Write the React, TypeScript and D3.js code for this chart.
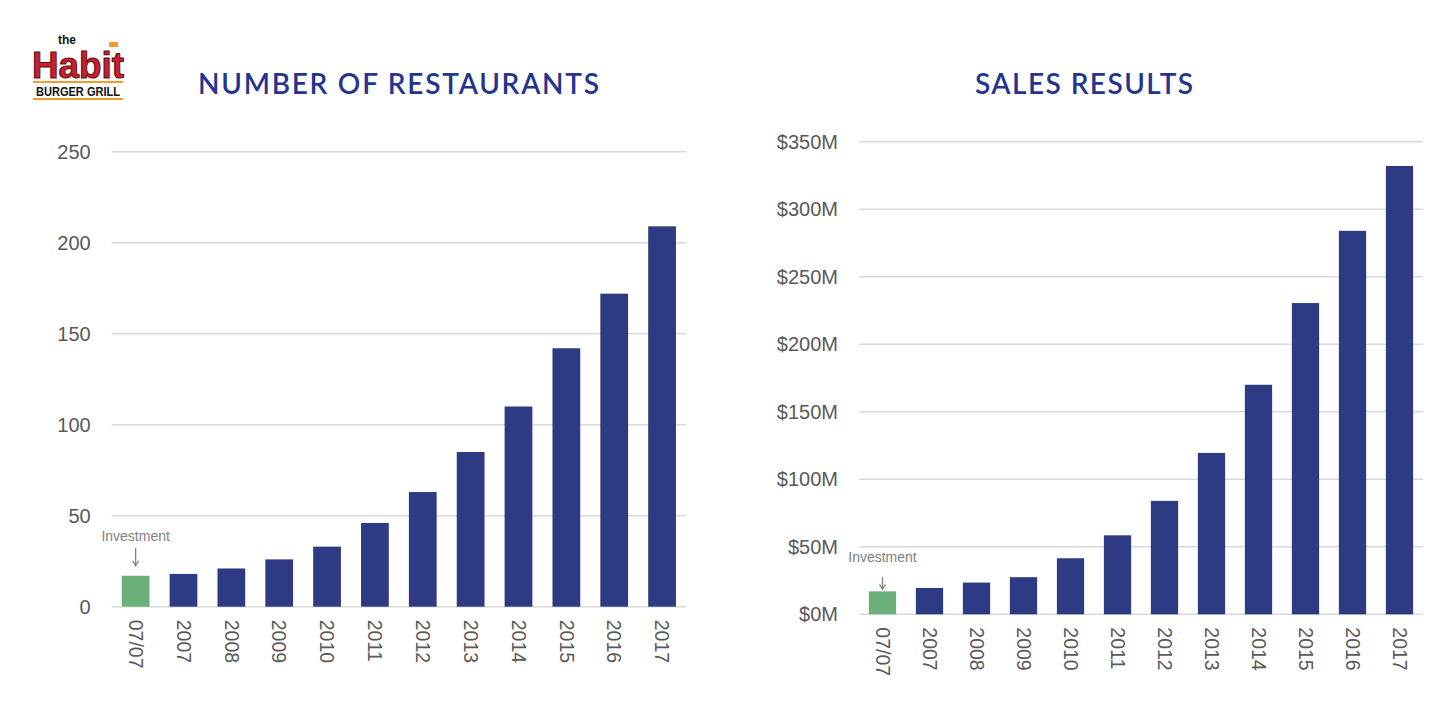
import React from 'react';
import * as d3 from 'd3';

// categories shared by both panels
const periods = ['07/07', '2007', '2008', '2009', '2010', '2011', '2012', '2013', '2014', '2015', '2016', '2017'];

// number of restaurants
const restaurants = [17, 18, 21, 26, 33, 46, 63, 85, 110, 142, 172, 209];
const restaurantTicks = [0, 50, 100, 150, 200, 250];

// sales in $M
const sales = [17, 19.5, 23.5, 27.5, 41.5, 58.5, 84, 119.5, 170, 230.5, 284, 332];
const salesTicks = [0, 50, 100, 150, 200, 250, 300, 350];

const BAR = '#2d3b84';
const GREEN = '#6baf7b';
const GRID = '#d9d9d9';
const TEXT = '#595959';
const TITLE = '#24358f';
const FONT = '"Liberation Sans", Arial, sans-serif';

interface PanelProps {
  title: string;
  titleX: number;
  titleWidth: number;
  values: number[];
  ticks: number[];
  fmt: (v: number) => string;
  x0: number;
  x1: number;
  yBottom: number;
  yTop: number;
  note: { text: number; a0: number; a1: number };
}

const Panel: React.FC<PanelProps> = ({ title, titleX, titleWidth, values, ticks, fmt, x0, x1, yBottom, yTop, note }) => {
  const xScale = d3.scaleBand<string>()
    .domain(periods)
    .range([x0, x1])
    .paddingInner(0.42)
    .paddingOuter(0.21);

  const yScale = d3.scaleLinear()
    .domain([0, ticks[ticks.length - 1]])
    .range([yBottom, yTop]);

  const bw = xScale.bandwidth();
  const firstX = xScale(periods[0])! + bw / 2;
  const firstTop = yScale(values[0]);

  return (
    <g>
      <text x={titleX} y={94} textAnchor="middle" fill={TITLE}
        style={{ fontFamily: '"Lato", "Open Sans", sans-serif', fontSize: 28, fontWeight: 600 }}
        textLength={titleWidth} lengthAdjust="spacing">
        {title}
      </text>

      {/* gridlines + y labels */}
      {ticks.map(t => (
        <g key={t}>
          <line x1={x0} x2={x1} y1={yScale(t)} y2={yScale(t)} stroke={GRID} strokeWidth={1.5} />
          <text x={x0 - 21} y={yScale(t)} dy="0.35em" textAnchor="end" fill={TEXT}
            style={{ fontFamily: FONT, fontSize: 20 }}>
            {fmt(t)}
          </text>
        </g>
      ))}

      {/* bars */}
      {values.map((v, i) => (
        <rect key={periods[i]} x={xScale(periods[i])} y={yScale(v)} width={bw}
          height={yScale(0) - yScale(v)} fill={i === 0 ? GREEN : BAR} />
      ))}

      {/* rotated x labels */}
      {periods.map(p => {
        const cx = xScale(p)! + bw / 2;
        const cy = yScale(0) + 13;
        return (
          <text key={p} transform={`translate(${cx},${cy}) rotate(90)`} dy="0.35em" textAnchor="start"
            fill={TEXT} style={{ fontFamily: FONT, fontSize: 19.5 }}>
            {p}
          </text>
        );
      })}

      {/* investment annotation */}
      <text x={firstX} y={firstTop - note.text} textAnchor="middle" fill="#808080"
        style={{ fontFamily: FONT, fontSize: 14 }}>
        Investment
      </text>
      <line x1={firstX} x2={firstX} y1={firstTop - note.a0} y2={firstTop - note.a1} stroke="#808080" strokeWidth={1.3} />
      <path d={`M${firstX - 3},${firstTop - note.a1 - 4} L${firstX},${firstTop - note.a1 + 1} L${firstX + 3},${firstTop - note.a1 - 4}`}
        fill="none" stroke="#808080" strokeWidth={1.3} />
    </g>
  );
};

const Logo: React.FC = () => (
  <g style={{ fontFamily: FONT, fontWeight: 700 }}>
    <text x={67} y={44} textAnchor="middle" fill="#111" style={{ fontSize: 12, fontWeight: 700 }}>the</text>
    <text x={78} y={78} textAnchor="middle" fill="#c8202f" stroke="#5a0d12" strokeWidth={1}
      textLength={92} lengthAdjust="spacingAndGlyphs" style={{ fontSize: 36, fontWeight: 700 }}>
      Habit
    </text>
    <rect x={109} y={42} width={9} height={5} fill="#f39a2b" />
    <rect x={33} y={81} width={90} height={2} fill="#f39a2b" />
    <text x={78} y={96} textAnchor="middle" fill="#111" textLength={84} lengthAdjust="spacingAndGlyphs"
      style={{ fontSize: 12, fontWeight: 700 }}>
      BURGER GRILL
    </text>
    <rect x={33} y={98} width={90} height={2} fill="#f39a2b" />
  </g>
);

export default function App() {
  return (
    <svg width={1446} height={716} style={{ position: 'absolute', left: 0, top: 0, background: '#fff' }}>
      <rect width={1446} height={716} fill="#fff" />
      <Logo />
      <Panel title="NUMBER OF RESTAURANTS" titleX={398.5} titleWidth={401}
        values={restaurants} ticks={restaurantTicks} fmt={v => `${v}`}
        x0={111.7} x1={686} yBottom={606.7} yTop={151.7}
        note={{ text: 35, a0: 28, a1: 11 }} />
      <Panel title="SALES RESULTS" titleX={1084} titleWidth={218}
        values={sales} ticks={salesTicks} fmt={v => `$${v}M`}
        x0={859} x1={1423} yBottom={614.3} yTop={141.7}
        note={{ text: 29, a0: 14, a1: 3 }} />
    </svg>
  );
}
